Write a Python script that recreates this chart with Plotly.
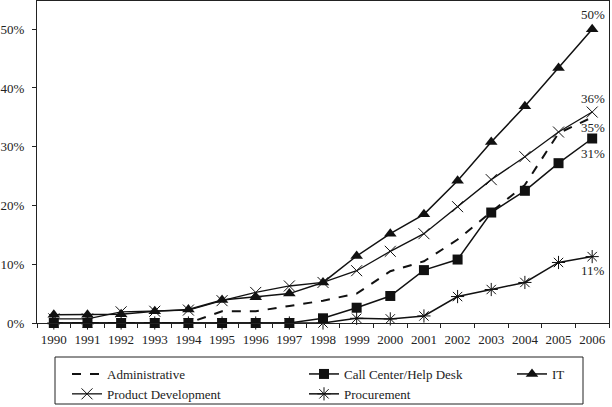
import plotly.graph_objects as go

years = [str(y) for y in range(1990, 2007)]
administrative = [0, 0, 0, 0, 0, 2.0, 2.0, 2.9, 3.8, 5.0, 8.8, 10.5, 14.2, 18.9, 23.5, 32.3, 35.0]
call_center = [0, 0, 0, 0, 0, 0, 0, 0, 0.8, 2.6, 4.6, 9.0, 10.8, 18.8, 22.5, 27.2, 31.4]
it = [1.4, 1.4, 1.5, 2.0, 2.3, 3.9, 4.4, 5.0, 6.9, 11.4, 15.2, 18.5, 24.2, 30.8, 36.9, 43.4, 50.0]
product_dev = [0.7, 0.7, 1.9, 2.0, 2.2, 3.8, 5.2, 6.3, 6.9, 8.9, 12.2, 15.2, 19.8, 24.4, 28.3, 32.5, 35.9]
procurement = [0, 0, 0, 0, 0, 0, 0, 0, 0, 0.8, 0.7, 1.2, 4.5, 5.7, 6.9, 10.3, 11.3]
end_labels = ["35%", "31%", "50%", "36%", "11%"]
y_ticks = [0, 10, 20, 30, 40, 50]
y_tick_text = [f"{v}%" for v in y_ticks]

FONT = "Liberation Serif, Times New Roman, serif"
BLACK = "#111111"

fig = go.Figure()

# (name, values, line style, marker, legend column)
series = [
    ("Administrative", administrative, dict(dash="dash", width=2), None, "legend"),
    ("Call Center/Help Desk", call_center, dict(width=1.5),
     dict(symbol="square", size=10, color=BLACK), "legend2"),
    ("IT", it, dict(width=1.5), dict(symbol="triangle-up", size=11, color=BLACK), "legend3"),
    ("Product Development", product_dev, dict(width=1.3),
     dict(symbol="x-thin-open", size=11, color=BLACK, line=dict(width=1, color=BLACK)), "legend"),
    ("Procurement", procurement, dict(width=1.5),
     dict(symbol="asterisk-open", size=11, color=BLACK, line=dict(width=1, color=BLACK)), "legend2"),
]

for name, vals, line, marker, leg in series:
    fig.add_trace(go.Scatter(
        x=years, y=vals, name=name,
        mode="lines" if marker is None else "lines+markers",
        line=dict(color=BLACK, **line),
        marker=marker,
        cliponaxis=False,
        legend=leg,
    ))

shifts = [-10, -15, 15, 14, -14]
annotations = []
for (name, vals, _, _, _), lab, sh in zip(series, end_labels, shifts):
    annotations.append(dict(
        x=len(years) - 1, y=vals[-1], xref="x", yref="y", text=lab,
        showarrow=False, yshift=sh, xshift=1,
        font=dict(family=FONT, size=13, color="#222"),
    ))

W, H = 612, 407
legend_top = 1 - 359 / H


def leg(xpx):
    return dict(
        orientation="v", xref="container", yref="container",
        x=xpx / W, xanchor="left", y=legend_top, yanchor="top",
        bgcolor="rgba(0,0,0,0)", borderwidth=0,
        font=dict(family=FONT, size=13, color="#222"),
        tracegroupgap=0,
    )


fig.update_layout(
    width=W, height=H,
    margin=dict(l=37, r=3, t=1, b=84, autoexpand=False),
    paper_bgcolor="white", plot_bgcolor="white",
    font=dict(family=FONT, size=13, color="#222"),
    showlegend=True,
    annotations=annotations,
    legend=leg(67),
    legend2=leg(304),
    legend3=leg(512),
    shapes=[dict(
        type="rect", xref="paper", yref="paper",
        x0=(55 - 37) / 572, x1=(583 - 37) / 572,
        y0=-(404 - 323) / 322, y1=-(357 - 323) / 322,
        line=dict(color="#222", width=1), fillcolor="rgba(0,0,0,0)",
    )],
    xaxis=dict(
        type="category", range=[-0.5, 16.5], automargin=False,
        showline=True, linecolor="#222", linewidth=1, mirror=True,
        ticks="outside", tickson="boundaries", ticklen=4, tickcolor="#222",
        showgrid=False, zeroline=False, tickangle=0, ticklabelstandoff=4,
        tickfont=dict(family=FONT, size=13),
    ),
    yaxis=dict(
        range=[0, 54.8], tickmode="array", tickvals=y_ticks, ticktext=y_tick_text,
        automargin=False,
        showline=True, linecolor="#222", linewidth=1, mirror=True,
        ticks="outside", ticklen=4, tickcolor="#222",
        showgrid=False, zeroline=False, ticklabelstandoff=5,
        tickfont=dict(family=FONT, size=13),
    ),
)

fig.write_html(
    "out.html",
    config={"displayModeBar": False},
    post_script="document.body.style.margin='0px';document.body.style.padding='0px';",
)
